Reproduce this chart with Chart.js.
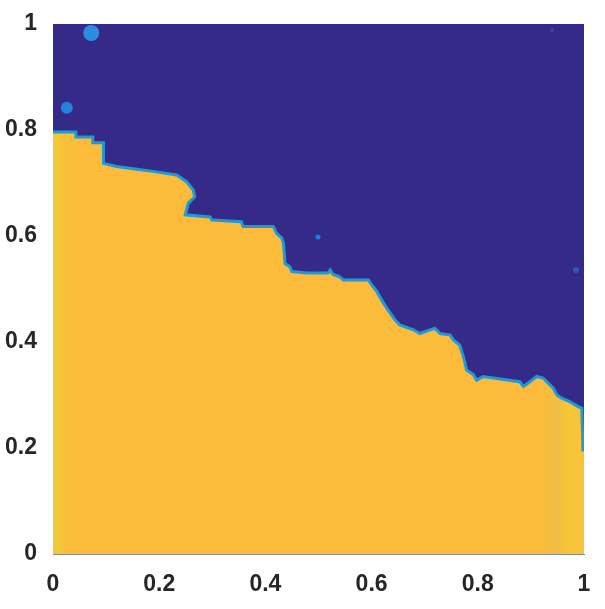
<!DOCTYPE html>
<html>
<head>
<meta charset="utf-8">
<script src="https://cdn.jsdelivr.net/npm/chart.js@4"></script>
<style>
  html, body { margin: 0; padding: 0; background: #fff; }
  #wrap { width: 605px; height: 609px; }
</style>
</head>
<body>
<div id="wrap"><canvas id="field"></canvas></div>
<script>
// boundary between the two regions
const boundaryX = [0, 0.043, 0.043, 0.075, 0.075, 0.095, 0.095, 0.120, 0.158, 0.195, 0.233, 0.252, 0.264, 0.267,
    0.255, 0.249, 0.296, 0.299, 0.355, 0.358, 0.415, 0.421, 0.431, 0.434, 0.437, 0.446, 0.450, 0.478, 0.518,
    0.522, 0.527, 0.540, 0.547, 0.594, 0.600, 0.610, 0.619, 0.631, 0.644, 0.653, 0.679, 0.691, 0.710, 0.719,
    0.729, 0.748, 0.754, 0.766, 0.773, 0.779, 0.792, 0.798, 0.810, 0.829, 0.879, 0.886, 0.898, 0.911, 0.923,
    0.933, 0.942, 0.949, 0.958, 0.974, 0.989, 0.996, 0.998, 1];
const boundaryY = [0.796, 0.796, 0.787, 0.787, 0.776, 0.776, 0.737, 0.731, 0.726, 0.721, 0.715, 0.702, 0.687, 0.674,
    0.662, 0.640, 0.636, 0.630, 0.627, 0.618, 0.618, 0.605, 0.596, 0.586, 0.548, 0.542, 0.533, 0.530, 0.530,
    0.536, 0.528, 0.523, 0.517, 0.517, 0.508, 0.495, 0.479, 0.460, 0.442, 0.432, 0.423, 0.416, 0.423, 0.426,
    0.416, 0.413, 0.404, 0.394, 0.372, 0.347, 0.338, 0.328, 0.335, 0.332, 0.325, 0.316, 0.325, 0.335, 0.332,
    0.322, 0.313, 0.300, 0.294, 0.287, 0.278, 0.275, 0.196, 0.196];

// small light-blue spots inside the dark region
const spotX = [0.072, 0.026, 0.499, 0.985, 0.94];
const spotY = [0.983, 0.842, 0.598, 0.536, 0.988];

const ticks = [0, 0.2, 0.4, 0.6, 0.8, 1];

const boundary = boundaryX.map((x, i) => ({ x: x, y: boundaryY[i] }));
const spots = spotX.map((x, i) => ({ x: x, y: spotY[i] }));

const tickFont = { family: "'Liberation Sans', Arial, sans-serif", size: 23, weight: 'bold' };

// yellow with a slightly brighter strip along the left and right edges
function yellowFill(context) {
    const area = context.chart.chartArea;
    if (!area) return '#fcbb3b';
    const g = context.chart.ctx.createLinearGradient(area.left, 0, area.right, 0);
    g.addColorStop(0, '#f0cc36');
    g.addColorStop(0.02, '#f8c03a');
    g.addColorStop(0.05, '#fcbb3b');
    g.addColorStop(0.92, '#fcbb3b');
    g.addColorStop(0.95, '#eebe44');
    g.addColorStop(0.97, '#f9c636');
    g.addColorStop(1, '#f8c23a');
    return g;
}

new Chart("field", {
    type: "line",
    data: {
        datasets: [{
            // dark region above the boundary
            data: boundary,
            fill: 'end',
            backgroundColor: '#352a87',
            borderWidth: 0,
            pointRadius: 0,
            tension: 0,
            order: 2
        }, {
            // yellow region below the boundary
            data: boundary,
            fill: 'origin',
            backgroundColor: yellowFill,
            borderColor: '#1f9ad8',
            borderWidth: 3,
            pointRadius: 0,
            tension: 0,
            order: 1
        }, {
            type: 'scatter',
            data: spots,
            pointRadius: [8, 6, 2.5, 3, 2],
            pointBackgroundColor: ['#2a8de0', '#2382dc', '#1f7ee0', '#2f55bd', '#3a45a8'],
            pointBorderWidth: 0,
            order: 0
        }]
    },
    options: {
        responsive: true,
        maintainAspectRatio: false,
        animation: false,
        layout: { padding: { top: 24, right: 21, left: 0, bottom: 0 } },
        plugins: {
            legend: { display: false },
            tooltip: { enabled: false },
            filler: { drawTime: 'beforeDatasetsDraw' }
        },
        scales: {
            x: {
                type: 'linear',
                min: 0,
                max: 1,
                afterFit: function (scale) { scale.height = 55; },
                afterBuildTicks: function (scale) { scale.ticks = ticks.map(v => ({ value: v })); },
                grid: { display: false },
                border: { display: true, color: '#8c8c8c', width: 1 },
                ticks: {
                    color: '#262626', font: tickFont, padding: 9, maxRotation: 0, autoSkip: false,
                    callback: v => String(v)
                }
            },
            y: {
                type: 'linear',
                min: 0,
                max: 1,
                afterFit: function (scale) { scale.width = 53; },
                afterBuildTicks: function (scale) { scale.ticks = ticks.map(v => ({ value: v })); },
                grid: { display: false },
                border: { display: true, color: '#8c8c8c', width: 1 },
                ticks: {
                    color: '#262626', font: tickFont, padding: 8, autoSkip: false,
                    callback: v => String(v)
                }
            }
        }
    }
});
</script>
</body>
</html>
